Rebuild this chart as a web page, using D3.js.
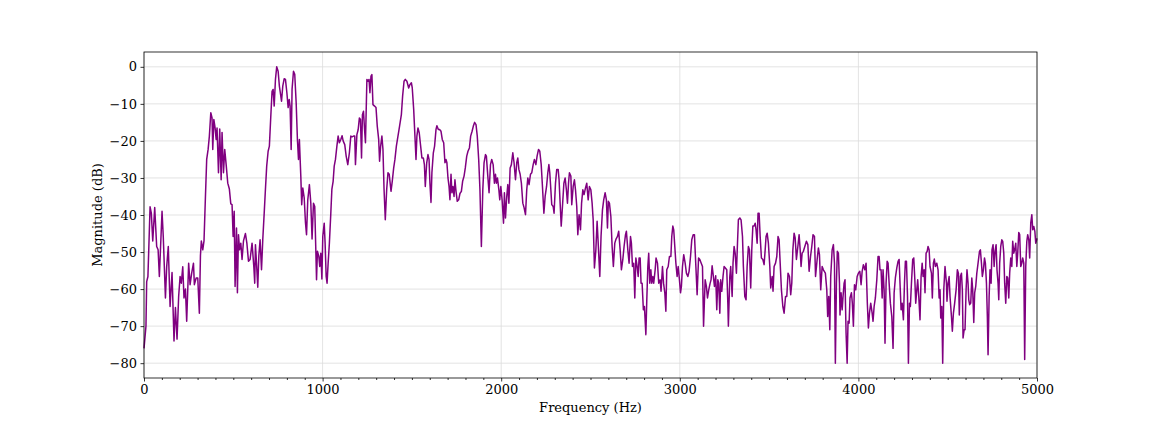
<!DOCTYPE html>
<html><head><meta charset="utf-8">
<script src="https://cdn.jsdelivr.net/npm/d3@7"></script>
<style>body{margin:0;background:#fff}svg text{font-family:"DejaVu Serif",serif}</style>
</head><body><svg id="c" width="1152" height="432"></svg>
<script>
const freq = [0,11,15,22,34,41,49,60,71,79,86,101,108,120,127,136,146,157,168,176,185,194,202,209,217,224,232,239,250,258,267,277,282,292,301,310,316,321,329,336,344,351,359,366,374,381,385,391,398,404,409,417,424,432,437,445,452,460,469,478,486,493,499,505,510,518,523,529,535,542,549,557,568,576,585,594,605,615,620,
624,630,637,643,650,658,665,673,680,687,695,702,710,717,723,729,736,743,751,758,770,777,785,792,800,807,813,818,824,829,837,844,852,859,865,870,878,883,889,897,904,910,917,926,934,941,949,956,962,966,971,979,984,990,996,1001,1009,1014,1020,1025,1031,1038,1046,1052,1059,1065,1072,1080,1087,1094,1102,1109,1115,1124,1132,1141,1150,1158,1165,1173,1180,1184,1192,1199,1206,1212,1218,1223,1229,1235,1240,1248,
1254,1260,1265,1271,1276,1282,1291,1299,1306,1314,1319,1325,1332,1338,1344,1351,1359,1366,1373,1383,1390,1398,1405,1413,1422,1431,1441,1448,1456,1463,1472,1482,1489,1497,1502,1510,1517,1523,1528,1534,1541,1549,1556,1564,1570,1575,1583,1590,1596,1601,1607,1612,1620,1627,1635,1640,1648,1655,1663,1670,1678,1685,1691,1696,1702,1708,1713,1719,1724,1730,1736,1741,1747,1754,1762,1769,1777,1784,1792,1799,1807,1814,1822,1829,1837,1844,1851,1859,1866,1874,1881,
1889,1897,1904,1912,1917,1925,1932,1940,1947,1955,1962,1968,1973,1979,1987,1992,1998,2005,2013,2018,2024,2031,2037,2043,2050,2057,2065,2072,2080,2087,2093,2099,2106,2113,2121,2128,2136,2143,2149,2156,2164,2171,2179,2186,2194,2201,2209,2216,2224,2231,2239,2246,2254,2261,2267,2272,2278,2283,2291,2296,2304,2311,2319,2324,2330,2336,2343,2351,2358,2365,2371,2377,2382,2390,2395,2403,2410,2416,2423,2429,2436,2444,2450,2457,2464,2472,2479,2487,2494,2502,2509,
2515,2522,2530,2537,2544,2552,2559,2567,2574,2582,2589,2595,2600,2606,2614,2621,2628,2636,2643,2651,2658,2666,2673,2681,2688,2696,2701,2709,2716,2724,2729,2735,2742,2748,2754,2761,2767,2772,2778,2783,2789,2796,2802,2810,2815,2821,2826,2832,2838,2843,2849,2854,2862,2867,2875,2882,2890,2895,2903,2909,2916,2922,2927,2935,2942,2950,2955,2961,2966,2972,2978,2985,2991,2998,3004,3009,3015,3022,3030,3037,3045,3052,3060,3067,3075,3082,3090,3097,3105,3112,3120,3127,3133,
3142,3149,3155,3162,3170,3175,3181,3188,3194,3201,3207,3213,3218,3224,3229,3235,3242,3248,3255,3263,3269,3272,3280,3285,3293,3298,3304,3310,3317,3323,3328,3336,3343,3351,3356,3364,3371,3377,3384,3390,3397,3403,3409,3416,3422,3427,3433,3438,3444,3450,3457,3465,3472,3478,3483,3489,3496,3504,3509,3517,3522,3528,3536,3543,3550,3556,3562,3569,3577,3584,3592,3599,3606,3614,3621,3627,3633,3640,3646,3653,3661,3668,3674,3679,3685,3692,3700,3709,3717,3724,3732,3739,3746,3754,3760,
3769,3776,3782,3789,3797,3804,3815,3823,3828,3834,3840,3845,3853,3860,3866,3871,3877,3882,3888,3894,3897,3903,3909,3914,3920,3925,3931,3937,3942,3948,3953,3961,3966,3972,3978,3985,3993,4000,4008,4015,4021,4028,4036,4043,4050,4056,4062,4069,4077,4082,4088,4095,4103,4110,4116,4121,4127,4133,4138,4144,4149,4155,4161,4166,4172,4179,4187,4194,4200,4207,4215,4222,4228,4233,4239,4245,4252,4258,4263,4269,4275,4280,4286,4291,4297,4304,4310,4316,4321,4327,4332,4338,4345,4351,4357,4362,4368,4373,4379,4385,4390,
4396,4401,4409,4414,4420,4425,4431,4439,4446,4452,4457,4461,4467,4472,4478,4485,4493,4496,4502,4508,4513,4521,4526,4532,4539,4547,4554,4560,4565,4571,4577,4582,4586,4592,4597,4603,4608,4614,4618,4623,4629,4635,4640,4646,4651,4657,4663,4670,4678,4683,4689,4694,4700,4706,4711,4717,4722,4726,4732,4737,4743,4748,4754,4760,4765,4771,4776,4782,4786,4791,4797,4803,4808,4814,4819,4825,4831,4836,4842,4847,4853,4859,4864,4870,4875,4881,4887,4892,4898,4903,4909,4915,4920,4926,4931,4937,4943,4948,4954,4959,4965,4971,4976,4982,4988,4993,5000];
const magnitude = [-76,-70,-58,-56.6,-37.8,-39.5,-47,-38,-48.5,-49.4,-56.6,-39,-46,-62.4,-54,-48.5,-64.7,-55.5,-74,-65,-73.5,-62,-56.6,-58.4,-54,-62.4,-60,-68.7,-53,-58.8,-55.7,-53,-58.8,-57,-57,-66.5,-51,-47,-49.4,-47,-35,-25,-22.3,-18.7,-12.4,-13.8,-22.3,-14.2,-16.5,-19.6,-16.5,-28.6,-16.8,-30.5,-17.7,-28.6,-22.3,-26.4,-31.4,-33,-37,-37.2,-45.8,-39,-59.3,-43.5,-61,-45.3,-49.4,-47.6,-52,-47,-45,-47.6,-52.5,-52,-47.6,-54,-58.4,
-48,-53,-59.5,-51,-46.7,-54.8,-46.7,-39.5,-33,-26.8,-22.8,-21.4,-13.3,-6.6,-6.1,-10.6,-3.4,0,-1.2,-5.2,-9.3,-5.2,-3.2,-3.4,-7,-11,-8.8,-10.6,-22.3,-6.1,-1.2,-2,-9.7,-19.6,-25,-19.6,-29.5,-37.2,-32.7,-35.4,-42,-45.3,-35.9,-31.8,-36.8,-46.5,-36.8,-37.7,-49.4,-57.5,-49.8,-51.2,-53.9,-50.3,-57.3,-45.8,-42.2,-47.6,-56.6,-58.4,-53,-47.6,-39.5,-33,-30.9,-26.8,-25,-21.4,-18.7,-20.5,-19.6,-18.6,-20,-21,-24.1,-26.4,-23.2,-18.7,-18.9,-18.7,-18.7,-26.4,-18.3,-17,-13.8,-14.2,-24.6,-12.9,-12,-17,-20.5,-3.4,
-3.9,-3.4,-7,-2.5,-2.1,-10.2,-10.6,-11,-16,-19.6,-25.5,-21.4,-18.7,-22.3,-33,-41.3,-33,-28.6,-29,-33.6,-30.9,-27.3,-25,-21.4,-18.7,-16,-12.9,-7.9,-3.9,-3.4,-3.9,-5.7,-4.8,-4.3,-5.7,-11.5,-18.7,-25,-18.7,-16.5,-17.8,-21.4,-24.6,-24.6,-26.4,-32.3,-25.9,-23.7,-25,-31.4,-36.6,-28.6,-23.2,-21.4,-16.9,-15.9,-16.9,-16.9,-17.4,-19.6,-20.5,-25.9,-25,-25.9,-30,-32.3,-35.9,-29,-34,-32.3,-35,-30.5,-33.6,-36.3,-35.9,-34.2,-33.6,-30.9,-29.5,-27.3,-24.1,-22.8,-21.9,-18.7,-17.4,-16,-15,-15.6,-18.7,-25,-33.2,
-48.5,-33.2,-25.9,-23.7,-24.1,-29.5,-34,-26.4,-25,-26.4,-31.4,-29,-31.4,-30,-33.2,-35.9,-32.3,-35.9,-42.2,-34,-40.8,-35,-31.8,-36.8,-27.3,-26.4,-23.2,-25.9,-30.5,-25.9,-24.6,-27.7,-29,-31.4,-36.8,-38,-39.9,-33.2,-30,-31.8,-29,-28.6,-26.4,-25,-26.4,-24.1,-22.3,-22.8,-26.4,-32.3,-39.5,-35,-32.3,-28.6,-26.4,-28.6,-33.2,-37.2,-37.7,-39.5,-31.4,-27.7,-27.7,-30.5,-36.8,-43,-37.7,-31.4,-30,-33.2,-36.8,-31.4,-28.6,-29.5,-37.2,-32.3,-30.5,-33.2,-37.7,-45.3,-39.9,-44,-36.8,-33.2,-34.5,-32.7,-31.4,-35.9,-32.3,-33.2,-36.8,
-41.3,-54.3,-49.4,-41.7,-48.5,-56.6,-45.8,-38.6,-35.9,-34,-35.9,-43.5,-36.3,-36.8,-40.4,-48.5,-53.9,-47.6,-46.5,-45.8,-44.4,-49.4,-54.8,-52,-48.5,-45.3,-44.4,-49.4,-53,-45.8,-47.6,-53.9,-53,-62.4,-51.6,-53.9,-56.6,-51.6,-51.6,-58.4,-58.4,-65.6,-64.7,-72.3,-63.3,-53.9,-50.3,-58.4,-54.8,-58.4,-56.6,-58.4,-54.8,-51.6,-53,-58.4,-57.5,-60.6,-53.9,-58.4,-61,-66,-54.8,-53.9,-51.2,-51.2,-45.8,-43,-44,-48.5,-53,-56.6,-53.9,-57.5,-61,-59.3,-53.9,-50.7,-53,-55.7,-56.6,-55.2,-51.2,-46.7,-45.3,-45.3,-53.9,-61.5,-51.6,-52,-53,-53.9,-70,
-57.5,-59.3,-62.4,-60.2,-58.4,-57.5,-53.7,-56.6,-59.3,-56.4,-65.6,-57.5,-58.4,-66.5,-57.5,-60.6,-56.6,-53.9,-54.3,-54.8,-63.8,-70,-56.6,-53.9,-62,-53,-48.5,-50.3,-55.7,-47.6,-41.3,-40.8,-41.3,-45.8,-53.9,-62,-62.9,-53.9,-48.5,-49.4,-59.7,-49.4,-43,-43,-42.2,-44,-47.6,-39.5,-39.5,-45.8,-51.6,-52,-53.4,-49.4,-45.8,-44.9,-47.6,-53.9,-59.7,-56.6,-60.6,-53.9,-53,-51.2,-45.8,-46.7,-53,-60.2,-64.7,-66.5,-62,-62,-55.7,-56.6,-61.5,-58.4,-49.4,-44.9,-46.2,-52,-48.5,-45.3,-49.4,-53.9,-50.3,-49.8,-48.5,-47.1,-48,-55.2,-51.2,-48.5,-45.3,-45.8,-56.6,
-52,-48.9,-50.7,-60.2,-53.9,-54.8,-55.7,-60.2,-67.4,-62,-71,-56.6,-49.4,-48,-53,-80,-58.4,-49.8,-50.3,-58.4,-67,-61,-65.6,-62,-58.4,-57.5,-71.9,-80,-68.7,-69.2,-62.4,-61,-63.8,-70,-58.8,-60.2,-56.6,-55.7,-55.2,-58.8,-55.2,-53.4,-54.8,-53,-63.8,-70.5,-66.5,-63.8,-66.5,-68.7,-64.7,-62.4,-57.5,-51.2,-51.2,-54.8,-54.8,-62.4,-54.8,-60.2,-74.6,-58.4,-52.5,-53,-58.4,-63.8,-67.4,-76,-61,-57,-54.3,-52.5,-52,-58.4,-65.6,-63.8,-68.3,-58.4,-52.5,-52.5,-62,-80,-63.8,-64.7,-58.4,-52,-51.6,-57.5,-63.8,-60.2,-57.5,-62,-68.3,-56.6,-53,-56.6,-54.8,-61,-50.3,-49.8,-48.5,
-49.4,-53.9,-55.7,-62.4,-53,-51.9,-53.9,-53,-54.8,-62.4,-60.2,-67.8,-64.7,-80,-60.2,-53.9,-58.4,-63.3,-58.4,-56.6,-62,-67.4,-71.4,-66.5,-63.8,-60.2,-54.8,-55.7,-67,-56.6,-55.7,-60.2,-73.2,-71,-71,-60.2,-54.8,-58.4,-62.9,-64.2,-63.8,-57,-60.2,-69,-61,-59.3,-55.7,-53,-49.8,-49.4,-53,-56.6,-54.8,-51.6,-53,-58.4,-67.4,-77.7,-62,-54.8,-58.4,-49.4,-48,-53.9,-49.8,-48,-54.8,-58.4,-62.9,-53,-48.5,-46.7,-47.1,-50.3,-58.4,-63.8,-56.6,-57,-62.4,-55.7,-51.6,-53.9,-47.1,-50.3,-49.4,-47.6,-53.9,-50.3,-44.7,-45.3,-53.9,-53,-51.6,-53,-79,-53.9,-47.1,-45.3,-46.7,-51.6,-42.2,-39.9,-44,-43.1,-44.4,-47.6,-46.3];
const xTicks = [0,1000,2000,3000,4000,5000];
const yTicks = [0,-10,-20,-30,-40,-50,-60,-70,-80];
const xLabel = "Frequency (Hz)";
const yLabel = "Magnitude (dB)";

const svg = d3.select("#c");
const L = 144, R = 1037, T = 52, B = 378;
const FS = 13;
const x = d3.scaleLinear().domain([0,5000]).range([L,R]);
const y = d3.scaleLinear().domain([-84,4]).range([B,T]);
const data = freq.map((f,i)=>[f, magnitude[i]]);

const g = svg.append("g");
g.selectAll(".gx").data(xTicks).enter().append("line")
  .attr("x1",d=>x(d)).attr("x2",d=>x(d)).attr("y1",T).attr("y2",B)
  .attr("stroke","#dcdcdc").attr("stroke-width",0.8);
g.selectAll(".gy").data(yTicks).enter().append("line")
  .attr("x1",L).attr("x2",R).attr("y1",d=>y(d)).attr("y2",d=>y(d))
  .attr("stroke","#dcdcdc").attr("stroke-width",0.8);

svg.append("path").datum(data)
  .attr("fill","none").attr("stroke","#800080").attr("stroke-width",1.5)
  .attr("stroke-linejoin","round")
  .attr("d", d3.line().x(d=>x(d[0])).y(d=>y(d[1])));

svg.append("rect").attr("x",L).attr("y",T).attr("width",R-L).attr("height",B-T)
  .attr("fill","none").attr("stroke","#000").attr("stroke-width",0.8);

const fmt = d3.format("d");
svg.append("g").attr("transform",`translate(0,${B})`)
  .call(d3.axisBottom(x).tickValues(xTicks).tickFormat(fmt).tickSize(3.5).tickPadding(3.5));
const minor = d3.range(0,5001,100).filter(v=>v%1000!==0);
svg.append("g").attr("transform",`translate(0,${B})`)
  .call(d3.axisBottom(x).tickValues(minor).tickFormat("").tickSize(2));
svg.append("g").attr("transform",`translate(${L},0)`)
  .call(d3.axisLeft(y).tickValues(yTicks).tickFormat(fmt).tickSize(3.5).tickPadding(3.5));
svg.selectAll(".domain").remove();
svg.selectAll(".tick text").attr("font-size",FS).attr("fill","#000").attr("font-family","DejaVu Serif");
svg.selectAll(".tick line").attr("stroke","#000").attr("stroke-width",0.8);

svg.append("text").attr("x",(L+R)/2).attr("y",411.5).attr("text-anchor","middle")
  .attr("font-size",FS).text(xLabel);
svg.append("text").attr("transform",`translate(101.5,${(T+B)/2}) rotate(-90)`)
  .attr("text-anchor","middle").attr("font-size",FS).text(yLabel);
</script></body></html>
